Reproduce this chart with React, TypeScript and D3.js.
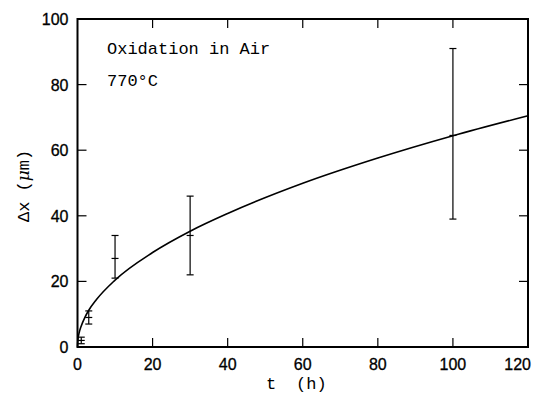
import { useEffect, useRef } from "react";
import * as d3 from "d3";

// measured points: time (h), thickness change (um), error bar low/high
const times = [1, 3, 10, 30, 100];
const dx = [2, 9, 27, 34, 64.5];
const errLow = [1, 7, 21, 22, 39];
const errHigh = [3, 11, 34, 46, 91];

// fitted curve
const curveT = [0, 0.1, 0.5, 1, 2, 3, 5, 10, 20, 30, 40, 60, 80, 100, 120];
const curveDx = [0, 2.0, 4.6, 6.4, 9.1, 11.2, 14.4, 20.4, 28.8, 35.3, 40.7, 49.9, 57.6, 64.4, 70.5];

const xTicks = [0, 20, 40, 60, 80, 100, 120];
const yTicks = [0, 20, 40, 60, 80, 100];

export default function App() {
  const svgRef = useRef<SVGSVGElement>(null);

  useEffect(() => {
    const svg = d3.select(svgRef.current);
    svg.selectAll("*").remove();

    const margin = { top: 19, right: 5, bottom: 47, left: 77.5 };
    const width = 533, height = 394;
    const x = d3.scaleLinear().domain([0, 120]).range([margin.left, width - margin.right]);
    const y = d3.scaleLinear().domain([0, 100]).range([height - margin.bottom, margin.top]);

    const mono = "'Liberation Mono', 'DejaVu Sans Mono', monospace";
    const sans = "'Liberation Sans', Arial, sans-serif";

    // frame
    svg.append("rect")
      .attr("x", x(0)).attr("y", y(100))
      .attr("width", x(120) - x(0)).attr("height", y(0) - y(100))
      .attr("fill", "none").attr("stroke", "#000").attr("stroke-width", 2);

    // inside ticks on all four sides
    const tl = 9;
    const g = svg.append("g").attr("stroke", "#000").attr("stroke-width", 1.2);
    xTicks.slice(1, -1).forEach(t => {
      g.append("line").attr("x1", x(t)).attr("x2", x(t)).attr("y1", y(0)).attr("y2", y(0) - tl);
      g.append("line").attr("x1", x(t)).attr("x2", x(t)).attr("y1", y(100)).attr("y2", y(100) + tl);
    });
    yTicks.slice(1, -1).forEach(v => {
      g.append("line").attr("x1", x(0)).attr("x2", x(0) + tl).attr("y1", y(v)).attr("y2", y(v));
      g.append("line").attr("x1", x(120)).attr("x2", x(120) - tl).attr("y1", y(v)).attr("y2", y(v));
    });

    // tick labels (last x label tucked in so it stays on the page)
    svg.append("g").selectAll("text").data(xTicks).enter().append("text")
      .attr("x", d => (d === 120 ? x(d) + 3 : x(d)))
      .attr("y", y(0) + 23)
      .attr("text-anchor", d => (d === 120 ? "end" : "middle"))
      .attr("font-family", sans).attr("font-size", 16)
      .attr("stroke", "#000").attr("stroke-width", 0.3)
      .text(d => d);
    svg.append("g").selectAll("text").data(yTicks).enter().append("text")
      .attr("x", x(0) - 9).attr("y", d => y(d) + 6)
      .attr("text-anchor", "end")
      .attr("font-family", sans).attr("font-size", 16)
      .attr("stroke", "#000").attr("stroke-width", 0.3)
      .text(d => d);

    // axis titles
    svg.append("text").attr("x", 266).attr("y", 389)
      .attr("font-family", mono).attr("font-size", 17).text("t");
    svg.append("text").attr("x", 296).attr("y", 389)
      .attr("font-family", mono).attr("font-size", 17).text("(h)");
    const yl = svg.append("text")
      .attr("transform", "translate(29,222) rotate(-90)")
      .attr("font-family", mono).attr("font-size", 17);
    yl.append("tspan").text("Δx  (");
    yl.append("tspan").attr("font-style", "italic").attr("font-family", "'DejaVu Serif', serif").text("μ");
    yl.append("tspan").text("m)");

    // annotations
    svg.append("text").attr("x", 107).attr("y", 54)
      .attr("font-family", mono).attr("font-size", 17).text("Oxidation in Air");
    svg.append("text").attr("x", 107).attr("y", 86)
      .attr("font-family", mono).attr("font-size", 17).text("770°C");

    // fitted curve
    const line = d3.line<number>()
      .x((_, i) => x(curveT[i]))
      .y(d => y(d))
      .curve(d3.curveMonotoneX);
    svg.append("path").datum(curveDx)
      .attr("d", line)
      .attr("fill", "none").attr("stroke", "#000").attr("stroke-width", 1.6);

    // error bars
    const eb = svg.append("g").attr("stroke", "#000").attr("stroke-width", 1.2);
    const cap = 3.5;
    times.forEach((t, i) => {
      const cx = x(t);
      eb.append("line").attr("x1", cx).attr("x2", cx).attr("y1", y(errLow[i])).attr("y2", y(errHigh[i]));
      eb.append("line").attr("x1", cx - cap).attr("x2", cx + cap).attr("y1", y(errLow[i])).attr("y2", y(errLow[i]));
      eb.append("line").attr("x1", cx - cap).attr("x2", cx + cap).attr("y1", y(errHigh[i])).attr("y2", y(errHigh[i]));
      eb.append("line").attr("x1", cx - cap).attr("x2", cx + cap).attr("y1", y(dx[i])).attr("y2", y(dx[i]));
    });
  }, []);

  return (
    <svg ref={svgRef} width={533} height={394}
      style={{ position: "absolute", left: 0, top: 0, background: "#fff" }} />
  );
}
